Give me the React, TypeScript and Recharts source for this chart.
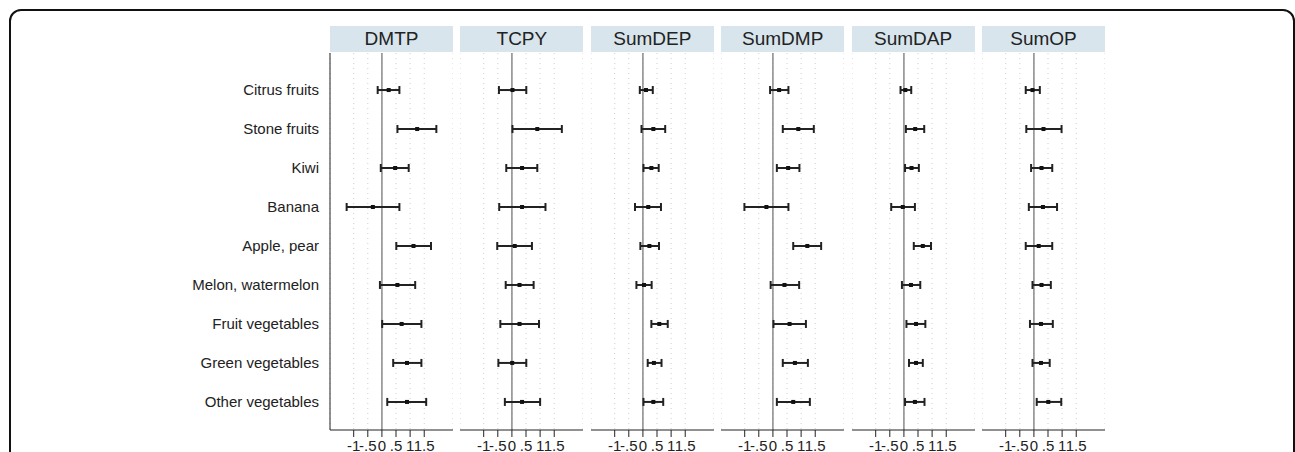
import React from "react";
import {
  ComposedChart,
  Scatter,
  ErrorBar,
  XAxis,
  YAxis,
  CartesianGrid,
  ReferenceLine,
} from "recharts";

const FONT = "'Liberation Sans', Arial, sans-serif";

const CATEGORIES = [
  "Citrus fruits",
  "Stone fruits",
  "Kiwi",
  "Banana",
  "Apple, pear",
  "Melon, watermelon",
  "Fruit vegetables",
  "Green vegetables",
  "Other vegetables",
];

const PANELS = ["DMTP", "TCPY", "SumDEP", "SumDMP", "SumDAP", "SumOP"];

const X_TICKS = [-1, -0.5, 0, 0.5, 1, 1.5];

// estimate, lower and upper CI per panel (same order as CATEGORIES)
const DMTP_EST = [0.24, 1.25, 0.47, -0.32, 1.12, 0.55, 0.7, 0.89, 0.89];
const DMTP_LO = [-0.15, 0.55, -0.04, -1.25, 0.51, -0.07, 0.01, 0.4, 0.19];
const DMTP_HI = [0.62, 1.93, 0.95, 0.62, 1.74, 1.18, 1.4, 1.4, 1.57];

const TCPY_EST = [0.02, 0.9, 0.36, 0.36, 0.1, 0.27, 0.27, 0.01, 0.36];
const TCPY_LO = [-0.46, 0.02, -0.2, -0.45, -0.52, -0.22, -0.41, -0.48, -0.25];
const TCPY_HI = [0.51, 1.77, 0.9, 1.19, 0.71, 0.77, 0.96, 0.51, 1.0];

const SUMDEP_EST = [0.11, 0.37, 0.3, 0.19, 0.23, 0.04, 0.58, 0.39, 0.37];
const SUMDEP_LO = [-0.11, -0.05, 0.02, -0.28, -0.09, -0.23, 0.3, 0.17, 0.02];
const SUMDEP_HI = [0.35, 0.79, 0.56, 0.64, 0.57, 0.31, 0.88, 0.66, 0.72];

const SUMDMP_EST = [0.22, 0.9, 0.54, -0.23, 1.22, 0.41, 0.59, 0.78, 0.72];
const SUMDMP_LO = [-0.1, 0.35, 0.14, -1.01, 0.72, -0.08, 0.02, 0.35, 0.14];
const SUMDMP_HI = [0.55, 1.45, 0.94, 0.55, 1.71, 0.93, 1.17, 1.24, 1.31];

const SUMDAP_EST = [0.05, 0.4, 0.27, -0.04, 0.67, 0.25, 0.43, 0.43, 0.39];
const SUMDAP_LO = [-0.12, 0.07, 0.04, -0.45, 0.35, -0.07, 0.09, 0.18, 0.04];
const SUMDAP_HI = [0.26, 0.72, 0.53, 0.39, 0.96, 0.58, 0.76, 0.67, 0.73];

const SUMOP_EST = [-0.05, 0.34, 0.27, 0.32, 0.17, 0.27, 0.25, 0.25, 0.51];
const SUMOP_LO = [-0.29, -0.27, -0.1, -0.18, -0.29, -0.05, -0.14, -0.05, 0.1];
const SUMOP_HI = [0.21, 0.98, 0.65, 0.82, 0.65, 0.6, 0.67, 0.56, 0.97];

const SERIES = [
  [DMTP_EST, DMTP_LO, DMTP_HI],
  [TCPY_EST, TCPY_LO, TCPY_HI],
  [SUMDEP_EST, SUMDEP_LO, SUMDEP_HI],
  [SUMDMP_EST, SUMDMP_LO, SUMDMP_HI],
  [SUMDAP_EST, SUMDAP_LO, SUMDAP_HI],
  [SUMOP_EST, SUMOP_LO, SUMOP_HI],
];

const PANEL_LEFT = 330;
const PANEL_STEP = 130.4;
const PLOT_W = 123;
const PLOT_TOP = 53;
const PLOT_H = 377;
const Y_LABEL_W = 320;

const fmtTick = (v: number) => {
  if (v === 0) return "0";
  const s = String(Math.abs(v)).replace(/^0\./, ".");
  return v < 0 ? "-" + s : s;
};

const Dot = (p: any) => (
  <rect x={p.cx - 2} y={p.cy - 2} width={4} height={4} fill="#111" />
);

function Panel({ idx }: { idx: number }) {
  const [est, lo, hi] = SERIES[idx];
  const data = est.map((e, i) => ({
    row: i + 1,
    est: e,
    err: [e - lo[i], hi[i] - e],
  }));
  const first = idx === 0;
  const yw = first ? Y_LABEL_W : 0;
  const left = first ? PANEL_LEFT - Y_LABEL_W : PANEL_LEFT + idx * PANEL_STEP;
  return (
    <div style={{ position: "absolute", left, top: 0 }}>
      <div
        style={{
          position: "absolute",
          left: yw,
          top: 26,
          width: PLOT_W,
          height: 26,
          background: "#d8e5ed",
          color: "#222",
          fontFamily: FONT,
          fontSize: 19,
          lineHeight: "26px",
          textAlign: "center",
        }}
      >
        {PANELS[idx]}
      </div>
      <div style={{ position: "absolute", left: 0, top: PLOT_TOP }}>
        <ComposedChart
          width={yw + PLOT_W}
          height={PLOT_H + 30}
          data={data}
          margin={{ top: 0, right: 0, bottom: 0, left: 0 }}
        >
          <CartesianGrid
            horizontal={false}
            stroke="#cfcfcf"
            strokeDasharray="1 4"
          />
          <XAxis
            type="number"
            dataKey="est"
            domain={[-1.84, 2.52]}
            allowDataOverflow
            ticks={X_TICKS}
            interval={0}
            tickFormatter={fmtTick}
            height={30}
            tickSize={7}
            tickMargin={3}
            axisLine={{ stroke: "#222" }}
            tickLine={{ stroke: "#222" }}
            tick={{ fill: "#222", fontSize: 15, fontFamily: FONT }}
          />
          <YAxis
            type="number"
            dataKey="row"
            domain={[0.05, 9.72]}
            allowDataOverflow
            reversed
            ticks={[1, 2, 3, 4, 5, 6, 7, 8, 9]}
            interval={0}
            width={yw}
            hide={!first}
            tickFormatter={(v: number) => CATEGORIES[v - 1]}
            tickLine={false}
            tickMargin={5}
            axisLine={{ stroke: "#222" }}
            tick={{ fill: "#222", fontSize: 15, fontFamily: FONT }}
          />
          <ReferenceLine x={0} stroke="#8a8a8a" strokeWidth={1.5} />
          <Scatter dataKey="est" shape={Dot} isAnimationActive={false}>
            <ErrorBar
              dataKey="err"
              direction="x"
              width={4}
              stroke="#222"
              strokeWidth={2}
              isAnimationActive={false}
            />
          </Scatter>
        </ComposedChart>
      </div>
    </div>
  );
}

export default function App() {
  return (
    <div
      style={{
        position: "absolute",
        left: 0,
        top: 0,
        width: 1295,
        height: 452,
        overflow: "hidden",
        background: "#fff",
      }}
    >
      <div
        style={{
          position: "absolute",
          left: 9,
          top: 9,
          width: 1282,
          height: 520,
          border: "2px solid #111",
          borderRadius: 12,
        }}
      />
      {PANELS.map((_, i) => (
        <Panel key={i} idx={i} />
      ))}
    </div>
  );
}
